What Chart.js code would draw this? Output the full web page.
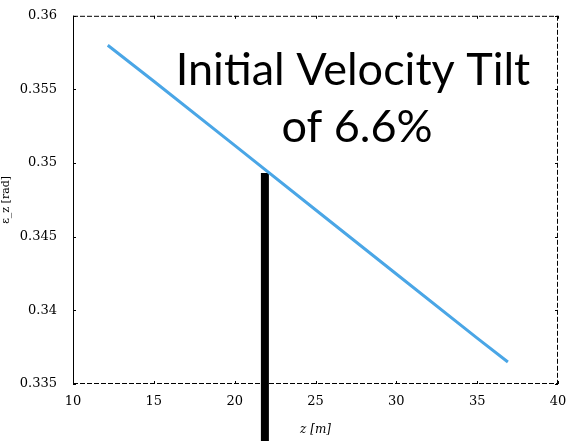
<!DOCTYPE html>
<html>
<head>
<meta charset="utf-8">
<script src="https://cdn.jsdelivr.net/npm/chart.js@4"></script>
<style>
  html, body { margin: 0; padding: 0; background: #fff; }
  #wrap { width: 571px; height: 441px; }
</style>
</head>
<body>
<div id="wrap"><canvas id="chart1"></canvas></div>
<script>
// Emittance along the line, with the z marker bar

const zValues = [12.15, 15, 20, 25, 30, 35, 36.9];
const emitValues = [0.3580, 0.35556, 0.35120, 0.34683, 0.34247, 0.33811, 0.33649];

const markerZ = [21.87, 21.87];
const markerY = [0.34932, 0.3311];

const xTicks = [10, 15, 20, 25, 30, 35, 40];
const yTicks = [0.335, 0.34, 0.345, 0.35, 0.355, 0.36];
const yTickLabels = ["0.335", "0.34", "0.345", "0.35", "0.355", "0.36"];

const noteLines = ["Initial Velocity Tilt", "of 6.6%"];

const ctx1 = document.getElementById("chart1").getContext("2d");

const tickFont = { family: "DejaVu Serif", size: 13 };

// frame: solid left edge, dashed elsewhere, plus the text note
const framePlugin = {
  id: "frame",
  beforeDatasetsDraw(chart) {
    const { ctx, chartArea: a } = chart;
    ctx.save();
    ctx.strokeStyle = "#000";
    ctx.lineWidth = 1;
    ctx.setLineDash([5, 2]);
    ctx.beginPath();
    ctx.moveTo(a.left, a.top + 0.5);
    ctx.lineTo(a.right, a.top + 0.5);
    ctx.moveTo(a.right - 0.5, a.top);
    ctx.lineTo(a.right - 0.5, a.bottom);
    ctx.moveTo(a.left, a.bottom - 0.5);
    ctx.lineTo(a.right, a.bottom - 0.5);
    ctx.stroke();
    ctx.setLineDash([]);
    ctx.beginPath();
    ctx.moveTo(a.left + 0.5, a.top);
    ctx.lineTo(a.left + 0.5, a.bottom);
    ctx.stroke();

    // small inward ticks
    const xs = chart.scales.x, ys = chart.scales.y;
    ctx.beginPath();
    xTicks.forEach((v) => {
      const px = Math.round(xs.getPixelForValue(v)) + 0.5;
      ctx.moveTo(px, a.bottom); ctx.lineTo(px, a.bottom - 3);
      ctx.moveTo(px, a.top); ctx.lineTo(px, a.top + 3);
    });
    yTicks.forEach((v) => {
      const py = Math.round(ys.getPixelForValue(v)) + 0.5;
      ctx.moveTo(a.left, py); ctx.lineTo(a.left + 3, py);
      ctx.moveTo(a.right, py); ctx.lineTo(a.right - 3, py);
    });
    ctx.stroke();
    ctx.restore();
  },
  afterDraw(chart) {
    const { ctx } = chart;
    ctx.save();
    ctx.fillStyle = "#000";
    ctx.font = "45px Lato";
    ctx.textAlign = "center";
    ctx.textBaseline = "alphabetic";
    ctx.fillText(noteLines[0], 353, 85);
    ctx.fillText(noteLines[1], 357, 142);
    ctx.restore();
  },
};

const emitChart = new Chart(ctx1, {
  type: "line",
  data: {
    datasets: [
      {
        label: "emittance",
        data: zValues.map((z, i) => ({ x: z, y: emitValues[i] })),
        borderColor: "#4aa6e6",
        borderWidth: 3,
        pointRadius: 0,
        tension: 0,
      },
      {
        label: "marker",
        data: markerZ.map((z, i) => ({ x: z, y: markerY[i] })),
        borderColor: "#000",
        borderWidth: 8,
        borderCapStyle: "butt",
        pointRadius: 0,
        clip: false,
      },
    ],
  },
  options: {
    responsive: true,
    maintainAspectRatio: false,
    animation: false,
    layout: { padding: { top: 14, right: 13, left: 0, bottom: 0 } },
    plugins: {
      legend: { display: false },
      tooltip: { enabled: false },
    },
    scales: {
      x: {
        type: "linear",
        min: 10,
        max: 40,
        afterBuildTicks: (s) => { s.ticks = xTicks.map((v) => ({ value: v })); },
        afterFit: (s) => { s.height = 57; },
        grid: { display: false },
        border: { display: false },
        ticks: { color: "#000", font: tickFont, padding: 2 },
        title: {
          display: true,
          text: "z [m]",
          color: "#000",
          font: { family: "DejaVu Serif", size: 12, style: "italic" },
          padding: { top: 4 },
        },
      },
      y: {
        type: "linear",
        min: 0.335,
        max: 0.36,
        afterBuildTicks: (s) => { s.ticks = yTicks.map((v) => ({ value: v })); },
        afterFit: (s) => { s.width = 73; },
        grid: { display: false },
        border: { display: false },
        ticks: {
          color: "#000",
          font: tickFont,
          padding: 8,
          callback: (v) => yTickLabels[yTicks.indexOf(v)] ?? "",
        },
        title: {
          display: true,
          text: "ε_z [rad]",
          color: "#000",
          font: { family: "DejaVu Serif", size: 11 },
          padding: 0,
        },
      },
    },
  },
  plugins: [framePlugin],
});
</script>
</body>
</html>
